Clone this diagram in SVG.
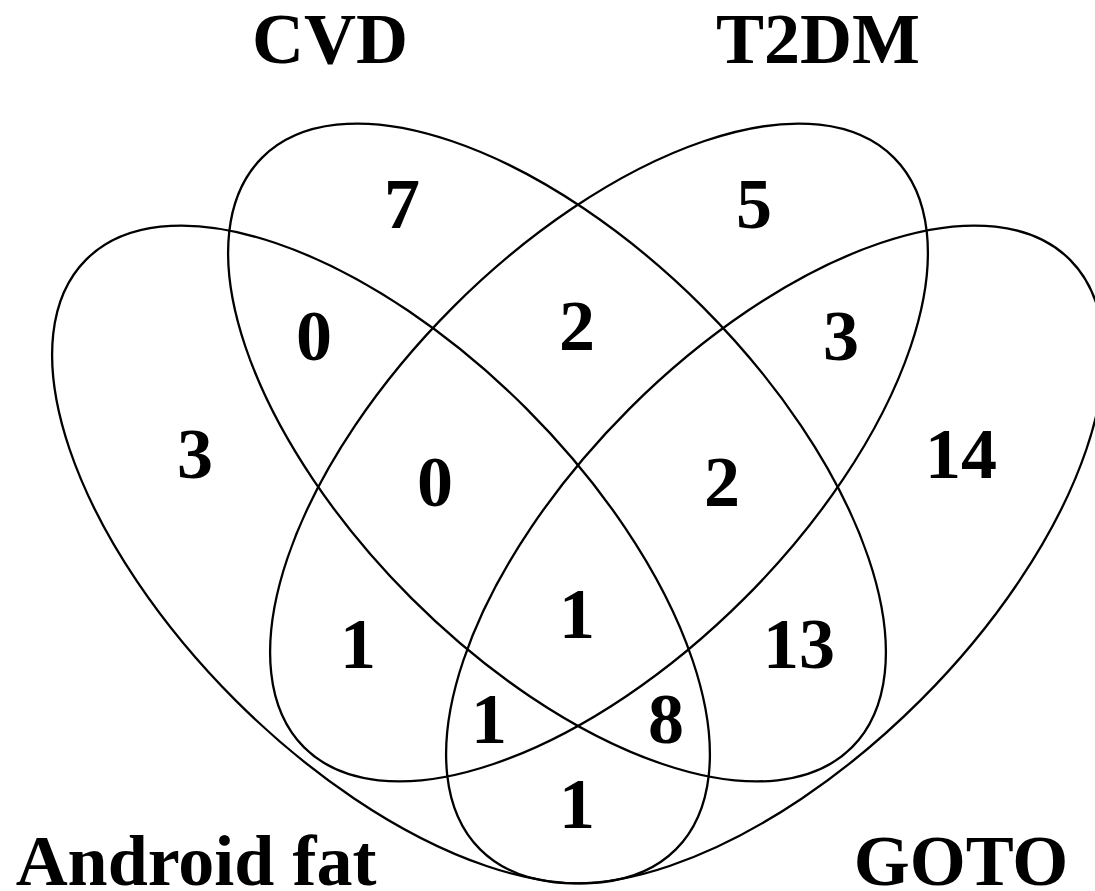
<svg xmlns="http://www.w3.org/2000/svg" width="1095" height="891" viewBox="0 0 1095 891">
<style>
.set{fill:none;stroke:#000;stroke-width:2.3}
.lbl{font-family:"Liberation Serif","Times New Roman",serif;font-weight:bold;font-size:72px;fill:#000;text-anchor:middle}
</style>
<rect width="1095" height="891" fill="#fff"/>
<g id="set-android-fat">
<ellipse class="set" cx="381" cy="554.5" rx="417" ry="206" transform="rotate(45 381 554.5)"/>
<text class="lbl" x="196" y="885">Android fat</text>
</g>
<g id="set-cvd">
<ellipse class="set" cx="557" cy="452.5" rx="417" ry="206" transform="rotate(45 557 452.5)"/>
<text class="lbl" x="330" y="63">CVD</text>
</g>
<g id="set-t2dm">
<ellipse class="set" cx="599" cy="452.5" rx="417" ry="206" transform="rotate(-45 599 452.5)"/>
<text class="lbl" x="818" y="63">T2DM</text>
</g>
<g id="set-goto">
<ellipse class="set" cx="775" cy="554.5" rx="417" ry="206" transform="rotate(-45 775 554.5)"/>
<text class="lbl" x="961" y="885">GOTO</text>
</g>
<g id="counts">
<text class="lbl" x="402" y="228">7</text>
<text class="lbl" x="754" y="228">5</text>
<text class="lbl" x="314" y="360">0</text>
<text class="lbl" x="577" y="350">2</text>
<text class="lbl" x="841" y="360">3</text>
<text class="lbl" x="195" y="478">3</text>
<text class="lbl" x="961" y="478">14</text>
<text class="lbl" x="435" y="506">0</text>
<text class="lbl" x="722" y="506">2</text>
<text class="lbl" x="577" y="638">1</text>
<text class="lbl" x="358" y="668">1</text>
<text class="lbl" x="799" y="668">13</text>
<text class="lbl" x="489" y="743">1</text>
<text class="lbl" x="666" y="743">8</text>
<text class="lbl" x="577" y="828">1</text>
</g>
</svg>
